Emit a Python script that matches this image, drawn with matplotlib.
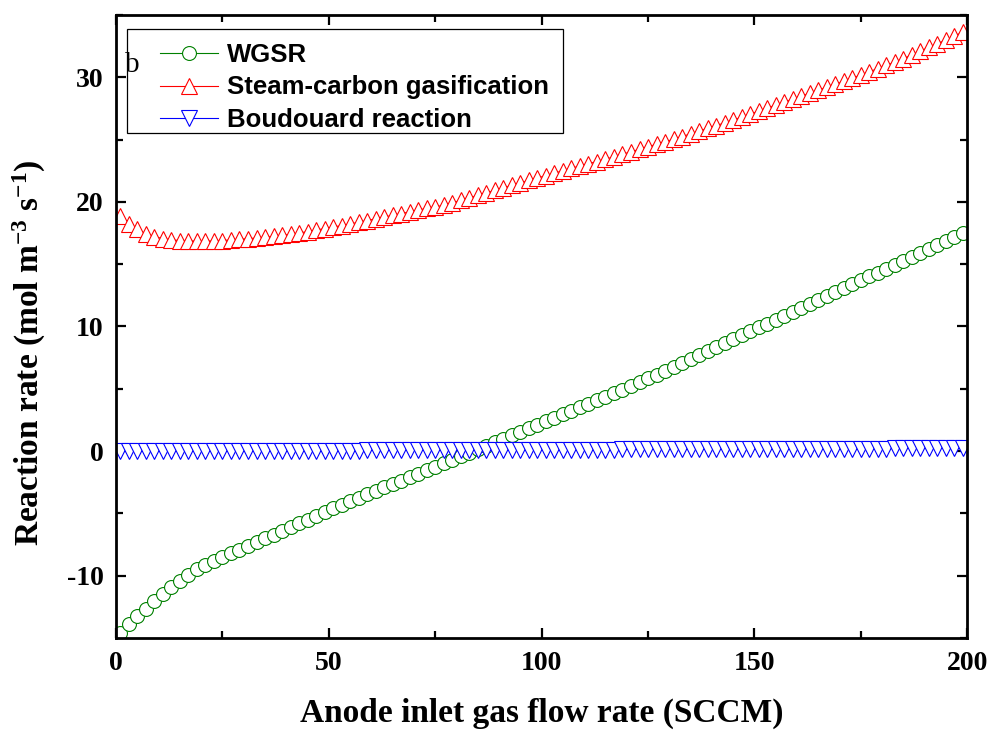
import matplotlib
matplotlib.use('Agg')
import matplotlib.pyplot as plt
from matplotlib.patches import Rectangle
from matplotlib.ticker import MultipleLocator

flow_rate = list(range(1, 200, 2))

wgsr = [-14.6, -13.9, -13.25, -12.65, -12.05, -11.45, -10.9, -10.4, -9.95, -9.5,
        -9.15, -8.83, -8.52, -8.21, -7.91, -7.61, -7.31, -7.01, -6.71, -6.41,
        -6.11, -5.81, -5.51, -5.21, -4.91,
        -4.6, -4.32, -4.04, -3.76, -3.48, -3.2, -2.92, -2.64, -2.36, -2.08,
        -1.8, -1.52, -1.24, -0.96, -0.68, -0.4, -0.12, 0.16, 0.44, 0.72,
        1.0, 1.28, 1.56, 1.84, 2.12,
        2.4, 2.68, 2.96, 3.24, 3.52, 3.8, 4.08, 4.36, 4.64, 4.92,
        5.2, 5.51, 5.83, 6.14, 6.46, 6.77, 7.09, 7.4, 7.72, 8.03,
        8.35, 8.66, 8.98, 9.29, 9.61,
        9.92, 10.24, 10.55, 10.87, 11.18, 11.5, 11.81, 12.13, 12.44, 12.76,
        13.07, 13.39, 13.7, 14.02, 14.33, 14.65, 14.96, 15.28, 15.59, 15.91,
        16.22, 16.54, 16.85, 17.17, 17.48]

steam_carbon = [18.85, 18.2, 17.8, 17.45, 17.22, 17.05, 16.95, 16.9, 16.87, 16.85,
                16.85, 16.87, 16.9, 16.95, 17.0, 17.05, 17.1, 17.17, 17.24, 17.32,
                17.4, 17.5, 17.62, 17.74, 17.86,
                17.98, 18.1, 18.23, 18.36, 18.5, 18.64, 18.78, 18.92, 19.06, 19.2,
                19.34, 19.48, 19.6, 19.72, 19.92, 20.12, 20.32, 20.52, 20.72, 20.92,
                21.12, 21.32, 21.52, 21.72, 21.92,
                22.1, 22.3, 22.5, 22.7, 22.88, 23.06, 23.24, 23.42, 23.62, 23.82,
                24.02, 24.22, 24.42, 24.62, 24.82, 25.02, 25.24, 25.46, 25.68, 25.9,
                26.12, 26.34, 26.56, 26.8, 27.04,
                27.28, 27.52, 27.76, 28.0, 28.24, 28.48, 28.72, 28.96, 29.2, 29.44,
                29.68, 29.93, 30.18, 30.44, 30.7, 30.96, 31.22, 31.5, 31.8, 32.1,
                32.4, 32.7, 33.0, 33.3, 33.65]

boudouard = [-0.02, -0.02, -0.01, -0.01, -0.01, 0.0, 0.0, 0.0, 0.0, 0.0,
             0.01, 0.01, 0.01, 0.01, 0.01, 0.02, 0.02, 0.02, 0.02, 0.02,
             0.03, 0.03, 0.03, 0.03, 0.03,
             0.04, 0.04, 0.04, 0.04, 0.05, 0.05, 0.05, 0.05, 0.06, 0.06,
             0.06, 0.06, 0.07, 0.07, 0.07, 0.07, 0.08, 0.08, 0.08, 0.08,
             0.09, 0.09, 0.09, 0.10, 0.10,
             0.10, 0.10, 0.11, 0.11, 0.11, 0.12, 0.12, 0.12, 0.12, 0.13,
             0.13, 0.13, 0.14, 0.14, 0.14, 0.14, 0.15, 0.15, 0.15, 0.15,
             0.16, 0.16, 0.16, 0.16, 0.17,
             0.17, 0.17, 0.17, 0.18, 0.18, 0.18, 0.18, 0.19, 0.19, 0.19,
             0.19, 0.2, 0.2, 0.2, 0.2, 0.2, 0.21, 0.21, 0.21, 0.21,
             0.21, 0.22, 0.22, 0.22, 0.22]

series_labels = ['WGSR', 'Steam-carbon gasification', 'Boudouard reaction']

plt.rcParams['axes.unicode_minus'] = False
plt.rcParams['mathtext.fontset'] = 'custom'
plt.rcParams['mathtext.rm'] = 'Liberation Serif:bold'
plt.rcParams['mathtext.bf'] = 'Liberation Serif:bold'
plt.rcParams['mathtext.it'] = 'Liberation Serif:bold'

fig = plt.figure(figsize=(9.92, 7.38), dpi=100)
ax = fig.add_axes([0.117, 0.1355, 0.858, 0.8442])

ax.plot(flow_rate, wgsr, color='#008000', lw=0.8, marker='o', ms=10,
        mfc='white', mec='#008000', mew=0.8, label=series_labels[0])
ax.plot(flow_rate, steam_carbon, color='#ff0000', lw=0.8, marker='^', ms=11.5,
        mfc='white', mec='#ff0000', mew=0.8, label=series_labels[1])
ax.plot(flow_rate, boudouard, color='#0000ff', lw=0.8, marker='v', ms=11.5,
        mfc='white', mec='#0000ff', mew=0.8, label=series_labels[2])

ax.set_xlim(0, 200)
ax.set_ylim(-15, 35)
ax.xaxis.set_major_locator(MultipleLocator(50))
ax.xaxis.set_minor_locator(MultipleLocator(25))
ax.yaxis.set_major_locator(MultipleLocator(10))
ax.yaxis.set_minor_locator(MultipleLocator(5))

for s in ax.spines.values():
    s.set_linewidth(2)
ax.tick_params(which='both', direction='in', top=True, right=True, width=1.6)
ax.tick_params(which='major', length=7.5, pad=9)
ax.tick_params(which='minor', length=5)
for lab in ax.get_xticklabels() + ax.get_yticklabels():
    lab.set_fontfamily('Liberation Serif')
    lab.set_fontweight('bold')
    lab.set_fontsize(20)

ax.set_xlabel('Anode inlet gas flow rate (SCCM)', fontfamily='Liberation Serif',
              fontweight='bold', fontsize=24, labelpad=16)
ax.set_ylabel('Reaction rate (mol m$^{-3}$ s$^{-1}$)', fontfamily='Liberation Serif',
              fontweight='bold', fontsize=24)
ax.yaxis.set_label_coords(-0.08, 0.457)

# legend box drawn separately to get Origin-like padding
ax.add_patch(Rectangle((0.0129, 0.8106), 0.5123, 0.1669, transform=ax.transAxes,
                       fill=True, facecolor='white', edgecolor='black', lw=0.9, zorder=4))
leg = ax.legend(loc='upper left', bbox_to_anchor=(0.0517, 0.955), frameon=False,
                prop={'family': 'Liberation Sans', 'weight': 'bold', 'size': 18.5},
                numpoints=1, handlelength=2.25, handletextpad=0.35,
                labelspacing=0.33, borderpad=0, borderaxespad=0)
leg.set_zorder(5)

ax.text(0.011, 0.9085, 'b', transform=ax.transAxes, fontfamily='Liberation Serif',
        fontsize=21, ha='left', va='baseline', zorder=6)

fig.savefig('out.png', dpi=100)
